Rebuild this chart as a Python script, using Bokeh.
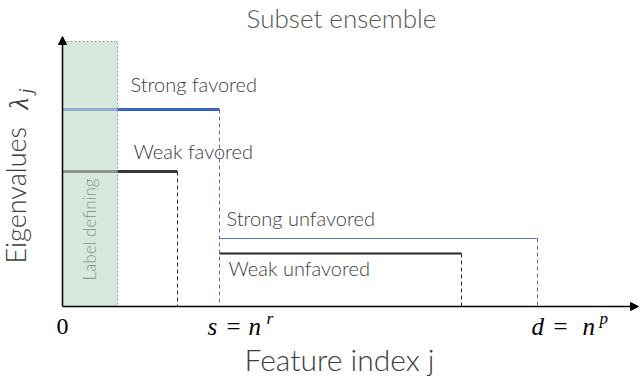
import math
from bokeh.plotting import figure
from bokeh.models import Arrow, NormalHead
from bokeh.core.properties import value
from bokeh.embed import file_html
from bokeh.resources import INLINE

# ---------------- data ----------------
title = "Subset ensemble"
x_label = "Feature index j"
y_label = "Eigenvalues"
y_label_var = "λ"
y_label_sub = "j"

groups = ["Strong favored", "Weak favored", "Strong unfavored", "Weak unfavored"]
levels = [197, 135, 68, 53]
starts = [0, 0, 157, 157]
ends = [157, 115, 475, 399]

label_region_text = "Label defining"
label_region_end = 55
label_region_top = 265

tick_positions = [0, 157, 475]
tick_vars = ["0", "s", "d"]
tick_exps = ["", "r", "p"]

x_axis_end = 576
y_axis_end = 270

# ---------------- styles ----------------
SANS = "'Lato Light', Lato"
SERIF = "Liberation Serif"
TXT = "#3c3c3c"
line_colors = ["#3a64bb", "#35393f", "#4d74c0", "#2f2531"]
faded_colors = ["#93acd0", "#8d9591", None, None]
line_widths = [3.2, 3.2, 1.2, 2.0]
dash_colors = ["#4a72bb", "#2a2a2a", "#4a72bb", "#2a2a2a"]
label_dx = [68, 71, 7, 9]
label_dy = [26, 21, 21, -14]

p = figure(width=640, height=378, x_range=(-62, 578), y_range=(-72, 306),
           output_backend="svg", toolbar_location=None,
           x_axis_type=None, y_axis_type=None, min_border=0,
           outline_line_color=None, background_fill_color="white",
           border_fill_color="white")

# label-defining region
p.quad(left=[0], right=[label_region_end], bottom=[0], top=[label_region_top],
       fill_color="#d6e8db", line_color="#9c9c9c", line_dash="2 2", line_width=1)
p.text(x=[27], y=[26], text=[label_region_text], angle=math.pi / 2,
       text_align="left", text_baseline="alphabetic",
       text_font=value(SANS), text_font_size="17px", text_color="#8b908d")

# spectra steps
for i, g in enumerate(groups):
    lvl, s0, e0 = levels[i], starts[i], ends[i]
    if faded_colors[i] is not None:
        p.segment(x0=[s0], y0=[lvl], x1=[label_region_end], y1=[lvl],
                  line_color=faded_colors[i], line_width=line_widths[i])
        p.segment(x0=[label_region_end], y0=[lvl], x1=[e0], y1=[lvl],
                  line_color=line_colors[i], line_width=line_widths[i])
    else:
        p.segment(x0=[s0], y0=[lvl], x1=[e0], y1=[lvl],
                  line_color=line_colors[i], line_width=line_widths[i])
    p.segment(x0=[e0], y0=[lvl], x1=[e0], y1=[0], line_color=dash_colors[i],
              line_width=1, line_dash="4 3")
    p.text(x=[s0 + label_dx[i]], y=[lvl + label_dy[i]], text=[g],
           text_align="left", text_baseline="alphabetic",
           text_font=value(SANS), text_font_size="20px", text_color=TXT)

# axes with arrows
p.add_layout(Arrow(end=NormalHead(size=8, fill_color="black", line_color="black"),
                   x_start=0, y_start=0, x_end=0, y_end=y_axis_end,
                   line_color="black", line_width=1.5))
p.add_layout(Arrow(end=NormalHead(size=8, fill_color="black", line_color="black"),
                   x_start=0, y_start=0, x_end=x_axis_end, y_end=0,
                   line_color="black", line_width=1.5))

# tick labels (math style)
tick_base = -20
piece_off = {"s": (-12, 7, 29, 47), "d": (-6, 16, 45, 62)}
for pos, var, ex in zip(tick_positions, tick_vars, tick_exps):
    if ex == "":
        p.text(x=[pos], y=[tick_base], text=[var], text_align="center",
               text_baseline="alphabetic", text_font=value(SERIF),
               text_font_size="24px", text_color="black")
        continue
    ov, oe, on, ox = piece_off[var]
    p.text(x=[pos + ov], y=[tick_base], text=[var], text_align="left",
           text_baseline="alphabetic", text_font=value(SERIF),
           text_font_style="italic", text_font_size="25px", text_color="black")
    p.text(x=[pos + oe], y=[tick_base], text=["="], text_align="left",
           text_baseline="alphabetic", text_font=value(SERIF),
           text_font_size="25px", text_color="black")
    p.text(x=[pos + on], y=[tick_base], text=["n"], text_align="left",
           text_baseline="alphabetic", text_font=value(SERIF),
           text_font_style="italic", text_font_size="25px", text_color="black")
    p.text(x=[pos + ox], y=[tick_base + 8], text=[ex], text_align="left",
           text_baseline="alphabetic", text_font=value(SERIF),
           text_font_style="italic", text_font_size="17px", text_color="black")

# axis titles
p.text(x=[277], y=[-52], text=[x_label], text_align="center",
       text_baseline="alphabetic", text_font=value(SANS),
       text_font_size="30px", text_color=TXT)
p.text(x=[-47], y=[43], text=[y_label], angle=math.pi / 2, text_align="left",
       text_baseline="alphabetic", text_font=value(SANS),
       text_font_size="27px", text_color=TXT)
p.text(x=[-44], y=[197], text=[y_label_var], angle=math.pi / 2, text_align="left",
       text_baseline="alphabetic", text_font=value(SERIF), text_font_style="italic",
       text_font_size="27px", text_color=TXT)
p.text(x=[-37], y=[213], text=[y_label_sub], angle=math.pi / 2, text_align="left",
       text_baseline="alphabetic", text_font=value(SERIF), text_font_style="italic",
       text_font_size="18px", text_color=TXT)

# title
p.text(x=[279], y=[289], text=[title], text_align="center",
       text_baseline="alphabetic", text_font=value(SANS),
       text_font_size="26px", text_color="#555555")

open("out.html", "w").write(file_html(p, INLINE))
